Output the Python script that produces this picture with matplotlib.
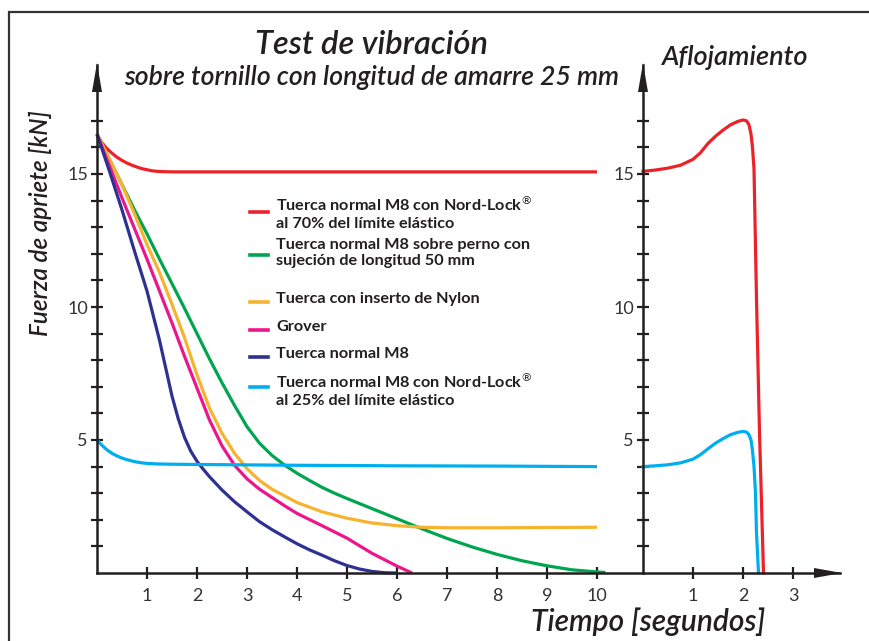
import matplotlib
matplotlib.use('Agg')
from matplotlib import pyplot as plt
from matplotlib.patches import Polygon, Rectangle

# --- data (time in s, force in kN) ---
series_names = ['Tuerca normal M8 con Nord-Lock$^{®}$\nal 70% del límite elástico',
                'Tuerca normal M8 sobre perno con\nsujeción de longitud 50 mm',
                'Tuerca con inserto de Nylon',
                'Grover',
                'Tuerca normal M8',
                'Tuerca normal M8 con Nord-Lock$^{®}$\nal 25% del límite elástico']
series_colors = ['#ED2229', '#00A54F', '#F5B32E', '#EC168C', '#2E3192', '#00AEEF']

t_red = [0, 0.1, 0.2, 0.3, 0.4, 0.5, 0.6, 0.7, 0.8, 0.9, 1.0, 1.1, 1.2, 1.3, 1.5, 2, 4, 6, 8, 10]
f_red = [16.45, 16.17, 15.95, 15.78, 15.63, 15.51, 15.41, 15.33, 15.26, 15.2, 15.16, 15.12,
         15.1, 15.09, 15.08, 15.08, 15.08, 15.08, 15.08, 15.08]

t_green = [0, 0.25, 0.5, 0.75, 1.0, 1.25, 1.5, 1.75, 2.0, 2.25, 2.5, 2.75, 3.0, 3.25, 3.5,
           3.75, 4.0, 4.25, 4.5, 4.75, 5.0, 5.5, 6.0, 6.5, 7.0, 7.5, 8.0, 8.5, 9.0, 9.5,
           10.0, 10.17]
f_green = [16.5, 15.55, 14.6, 13.65, 12.75, 11.8, 10.88, 9.95, 9.0, 8.05, 7.15, 6.3, 5.5,
           4.88, 4.42, 4.06, 3.75, 3.48, 3.22, 3.0, 2.8, 2.42, 2.04, 1.66, 1.3, 0.98, 0.7,
           0.46, 0.27, 0.12, 0.04, 0.02]

t_nylon = [0, 0.25, 0.5, 0.75, 1.0, 1.25, 1.5, 1.75, 2.0, 2.25, 2.5, 2.75, 3.0, 3.25, 3.5,
           3.75, 4.0, 4.5, 5.0, 5.5, 6.0, 6.5, 7.0, 8.0, 9.0, 10.0]
f_nylon = [16.5, 15.55, 14.6, 13.5, 12.35, 11.3, 10.1, 8.85, 7.45, 6.2, 5.25, 4.5, 3.92,
           3.48, 3.15, 2.9, 2.65, 2.3, 2.06, 1.88, 1.78, 1.72, 1.70, 1.70, 1.71, 1.72]

t_grover = [0, 0.25, 0.5, 0.75, 1.0, 1.25, 1.5, 1.75, 2.0, 2.25, 2.5, 2.75, 3.0, 3.25, 3.5,
            3.75, 4.0, 4.5, 5.0, 5.5, 6.0, 6.3]
f_grover = [16.5, 15.3, 14.1, 12.95, 11.8, 10.6, 9.4, 8.15, 6.95, 5.75, 4.78, 4.05, 3.54,
            3.15, 2.84, 2.53, 2.24, 1.78, 1.31, 0.74, 0.26, 0.0]

t_m8 = [0, 0.25, 0.5, 0.75, 1.0, 1.25, 1.5, 1.625, 1.75, 1.875, 2.0, 2.125, 2.25, 2.5, 2.75,
        3.0, 3.25, 3.5, 3.75, 4.0, 4.25, 4.5, 4.75, 5.0, 5.25, 5.5, 5.75, 6.0]
f_m8 = [16.5, 15.1, 13.65, 12.1, 10.6, 8.75, 6.65, 5.8, 5.1, 4.58, 4.2, 3.9, 3.62, 3.12, 2.68,
        2.3, 1.93, 1.63, 1.36, 1.1, 0.87, 0.67, 0.46, 0.28, 0.15, 0.06, 0.01, 0.0]

t_cyan = [0, 0.1, 0.2, 0.3, 0.4, 0.5, 0.6, 0.7, 0.8, 0.9, 1.0, 1.2, 1.5, 2, 4, 6, 8, 10]
f_cyan = [5.0, 4.8, 4.63, 4.5, 4.4, 4.32, 4.26, 4.21, 4.17, 4.14, 4.12, 4.1, 4.09, 4.08,
          4.05, 4.03, 4.02, 4.0]

# loosening (Aflojamiento)
t_loose_red = [0, 0.25, 0.5, 0.75, 1.0, 1.15, 1.3, 1.45, 1.6, 1.75, 1.9, 2.0, 2.07, 2.12,
               2.16, 2.19, 2.22, 2.27, 2.33, 2.41]
f_loose_red = [15.1, 15.15, 15.22, 15.33, 15.55, 15.8, 16.15, 16.42, 16.65, 16.85, 16.98,
               17.03, 17.0, 16.85, 16.5, 16.0, 15.2, 10.3, 5.3, 0.0]
t_loose_cyan = [0, 0.25, 0.5, 0.75, 1.0, 1.15, 1.3, 1.45, 1.6, 1.75, 1.9, 2.0, 2.07, 2.12,
                2.16, 2.19, 2.22, 2.25, 2.27, 2.31]
f_loose_cyan = [4.0, 4.03, 4.07, 4.14, 4.28, 4.45, 4.67, 4.88, 5.05, 5.2, 5.29, 5.32, 5.3,
                5.2, 5.0, 4.6, 4.0, 3.0, 1.5, 0.0]

y_ticks = list(range(1, 18))
x_ticks_test = list(range(1, 11))
x_ticks_loose = [1, 2, 3]

W, H = 870, 641
INK = '#231F20'
LW = 2.3


def fx(x):
    return x / W


def fy(y):
    return 1 - y / H


def main():
    plt.rcParams['font.family'] = ['Lato', 'DejaVu Sans']
    fig = plt.figure(figsize=(W / 100, H / 100), dpi=100)

    # frame around the whole picture
    fig.add_artist(Rectangle((fx(9), fy(H + 20)), fx(W + 20), fy(12) - fy(H + 20),
                             transform=fig.transFigure, fill=False, ec='#333333', lw=1.6))

    ax = fig.add_axes([fx(97), fy(573), fx(643 - 97), fy(65) - fy(573)])
    ax2 = fig.add_axes([fx(643), fy(573), fx(840 - 643), fy(65) - fy(573)])
    ax.set_xlim(0, (643 - 97) / 50)
    ax2.set_xlim(0, (840 - 643) / 50)
    for a in (ax, ax2):
        a.set_ylim(0, (573 - 65) / 26.6)
        a.patch.set_alpha(0)
        a.spines['top'].set_visible(False)
        a.spines['right'].set_visible(False)
        for side in ('left', 'bottom'):
            a.spines[side].set_linewidth(1.8)
            a.spines[side].set_color(INK)
        a.set_yticks(y_ticks)
        a.set_yticklabels([str(v) if v % 5 == 0 else '' for v in y_ticks])
        a.tick_params(direction='inout', length=9, width=1.6, color=INK,
                      labelcolor='#333333', labelsize=13)
        a.tick_params(axis='x', pad=6)
        a.tick_params(axis='y', pad=2)
    ax.set_xticks(x_ticks_test)
    ax2.set_xticks(x_ticks_loose)

    curves = [(t_red, f_red), (t_green, f_green), (t_nylon, f_nylon),
              (t_grover, f_grover), (t_m8, f_m8), (t_cyan, f_cyan)]
    for (t, f), c in zip(curves, series_colors):
        ax.plot(t, f, color=c, lw=LW, solid_joinstyle='round', solid_capstyle='butt',
                clip_on=False)
    ax2.plot(t_loose_red, f_loose_red, color=series_colors[0], lw=LW,
             solid_joinstyle='round', clip_on=False)
    ax2.plot(t_loose_cyan, f_loose_cyan, color=series_colors[5], lw=LW,
             solid_joinstyle='round', clip_on=False)

    # arrow heads
    for tri in ([(97, 63), (92, 92), (102, 92)],
                [(643, 63), (638, 92), (648, 92)],
                [(842, 573), (814, 568), (814, 578)]):
        fig.add_artist(Polygon([(fx(x), fy(y)) for x, y in tri], closed=True,
                               transform=fig.transFigure, color=INK, lw=0))

    # legend drawn by hand
    first_line = [205, 248, 302, 330, 357, 382]
    handle_off = [7, 7, 0, 0, 0, 5]
    for name, c, y0, dy in zip(series_names, series_colors, first_line, handle_off):
        fig.add_artist(plt.Line2D([fx(250), fx(268)], [fy(y0 + dy), fy(y0 + dy)],
                                  transform=fig.transFigure, color=c, lw=2.6))
        fig.text(fx(276), fy(y0 - 10), name, ha='left', va='top', fontsize=11.7,
                 fontweight='bold', color=INK, linespacing=1.2)

    fig.text(fx(372), fy(45), 'Test de vibración', ha='center', va='center',
             fontsize=23.5, style='italic', fontweight='semibold', color=INK)
    fig.text(fx(372), fy(78), 'sobre tornillo con longitud de amarre 25 mm',
             ha='center', va='center', fontsize=19.2, style='italic',
             fontweight='semibold', color=INK)
    fig.text(fx(735), fy(57), 'Aflojamiento', ha='center', va='center',
             fontsize=19.5, style='italic', fontweight='semibold', color=INK)
    fig.text(fx(40), fy(223), 'Fuerza de apriete [kN]', ha='center', va='center',
             rotation=90, fontsize=17.5, style='italic', fontweight='semibold', color=INK)
    fig.text(fx(648), fy(622), 'Tiempo [segundos]', ha='center', va='center',
             fontsize=21.5, style='italic', fontweight='semibold', color=INK)

    fig.savefig('out.png', dpi=100)


if __name__ == '__main__':
    main()
